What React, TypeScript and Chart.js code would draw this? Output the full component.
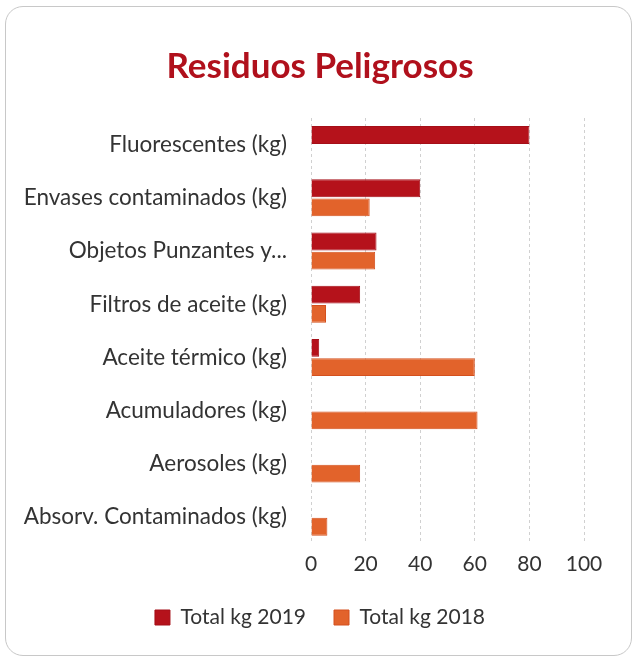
import React, { useEffect, useRef } from "react";
import { Chart, registerables } from "chart.js";

Chart.register(...registerables);

const categories = [
  "Fluorescentes (kg)",
  "Envases contaminados (kg)",
  "Objetos Punzantes y...",
  "Filtros de aceite (kg)",
  "Aceite térmico (kg)",
  "Acumuladores (kg)",
  "Aerosoles (kg)",
  "Absorv. Contaminados (kg)",
];
const total2019 = [80, 40, 24, 18, 3, null, null, null];
const total2018 = [null, 21.5, 23.5, 5.5, 60, 61, 18, 6];
const xTicks = [0, 20, 40, 60, 80, 100];

const FONT = "Lato, 'Open Sans', sans-serif";

export default function App() {
  const ref = useRef<HTMLCanvasElement>(null);
  useEffect(() => {
    if (!ref.current) return;
    const chart = new Chart(ref.current, {
      type: "bar",
      data: {
        labels: categories,
        datasets: [
          {
            label: "Total kg 2019",
            data: total2019,
            backgroundColor: "#B5121B",
            borderColor: "#A50F18",
            borderWidth: 1,
            categoryPercentage: 0.72,
            barPercentage: 0.93,
          },
          {
            label: "Total kg 2018",
            data: total2018,
            backgroundColor: "#E2632B",
            borderColor: "#D4501E",
            borderWidth: 1,
            categoryPercentage: 0.72,
            barPercentage: 0.93,
          },
        ],
      },
      options: {
        indexAxis: "y",
        animation: false,
        responsive: true,
        maintainAspectRatio: false,
        layout: { padding: { left: 6, right: 0, top: 32, bottom: 22 } },
        plugins: {
          title: {
            display: true,
            text: "Residuos Peligrosos",
            color: "#B0101C",
            font: { family: FONT, size: 35, weight: "bold" },
            padding: { top: 14, bottom: 30 },
          },
          legend: {
            position: "bottom",
            labels: {
              color: "#333",
              font: { family: FONT, size: 21 },
              boxWidth: 15,
              boxHeight: 15,
              padding: 28,
            },
          },
          tooltip: { enabled: false },
        },
        scales: {
          x: {
            min: 0,
            max: 100,
            afterBuildTicks: (s: any) => {
              s.ticks = xTicks.map((v) => ({ value: v }));
            },
            afterFit: (s: any) => {
              s.height = s.height - 6;
            },
            grid: { color: "#d0d0d0", drawTicks: false },
            border: { display: false, dash: [3, 3] },
            ticks: { color: "#333", font: { family: FONT, size: 21 }, padding: 8 },
          },
          y: {
            afterFit: (s: any) => {
              s.width = 305;
            },
            grid: { display: false },
            border: { display: false },
            ticks: { color: "#333", font: { family: FONT, size: 22.5 }, padding: 16 },
          },
          rightSpace: {
            type: "linear",
            position: "right",
            display: true,
            afterFit: (s: any) => {
              s.width = 50;
            },
            grid: { display: false, drawTicks: false },
            border: { display: false },
            ticks: { display: false },
          },
        },
      },
    });
    return () => chart.destroy();
  }, []);
  return (
    <div style={{ position: "fixed", left: 0, top: 0, width: 634, height: 660, background: "#fff" }}>
      <div
        style={{
          position: "absolute",
          left: 5,
          top: 6,
          width: 625,
          height: 648,
          border: "1px solid #c8c8c8",
          borderRadius: 18,
        }}
      />
      <div style={{ position: "absolute", left: 0, top: 0, width: 634, height: 660 }}>
        <canvas ref={ref} />
      </div>
    </div>
  );
}
